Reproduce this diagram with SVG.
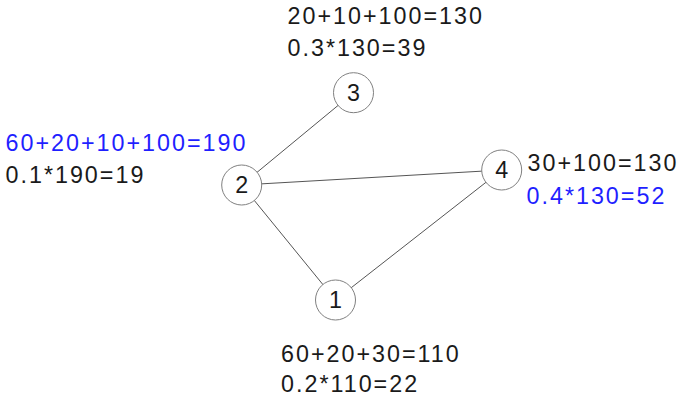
<svg xmlns="http://www.w3.org/2000/svg" width="680" height="405" viewBox="0 0 680 405">
<style>
text{font-family:"Liberation Sans",Arial,sans-serif;font-size:23.3px;letter-spacing:2px;fill:#1a1a1a}
.b{fill:#1f1fff}
.n{text-anchor:middle;letter-spacing:0}
circle{fill:#fff;stroke:#808080;stroke-width:1}
line{stroke:#555;stroke-width:1}
</style>
<rect width="680" height="405" fill="#fff"/>
<g id="edges">
<line x1="241.7" y1="185" x2="353.5" y2="92.7"/>
<line x1="241.7" y1="185" x2="501.7" y2="170"/>
<line x1="241.7" y1="185" x2="335.5" y2="300"/>
<line x1="335.5" y1="300" x2="501.7" y2="170"/>
</g>
<g id="node1"><circle cx="335.5" cy="300" r="20"/><text class="n" x="335.5" y="308.4">1</text></g>
<g id="node2"><circle cx="241.7" cy="185" r="20"/><text class="n" x="241.7" y="193.4">2</text></g>
<g id="node3"><circle cx="353.5" cy="92.7" r="20"/><text class="n" x="353.5" y="101.1">3</text></g>
<g id="node4"><circle cx="501.7" cy="170" r="20"/><text class="n" x="501.7" y="178.4">4</text></g>
<g id="labels">
<text x="287.5" y="24">20+10+100=130</text>
<text x="287.5" y="56">0.3*130=39</text>
<text class="b" x="5.5" y="150.7">60+20+10+100=190</text>
<text x="5.5" y="183.3">0.1*190=19</text>
<text x="527.5" y="170.7">30+100=130</text>
<text class="b" x="526.5" y="204">0.4*130=52</text>
<text x="281" y="361.7">60+20+30=110</text>
<text x="281" y="391.7">0.2*110=22</text>
</g>
</svg>
